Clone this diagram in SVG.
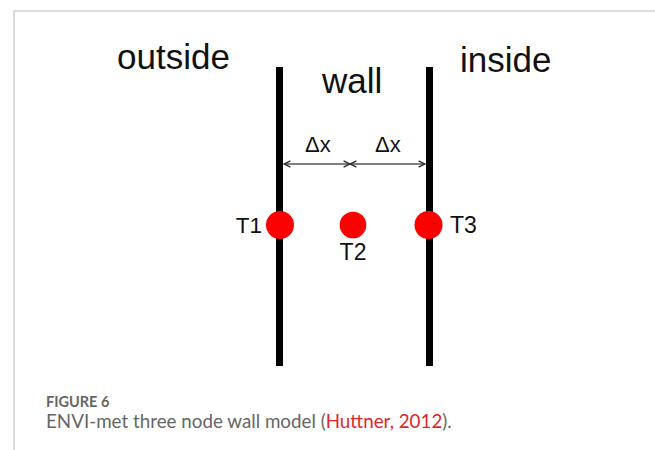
<svg xmlns="http://www.w3.org/2000/svg" width="655" height="450" viewBox="0 0 655 450">
  <defs>
    <marker id="ah" viewBox="0 0 10 10" refX="9" refY="5" markerWidth="8" markerHeight="8" orient="auto-start-reverse" markerUnits="userSpaceOnUse">
      <path d="M1,1 L9,5 L1,9" fill="none" stroke="#333" stroke-width="1.8"/>
    </marker>
  </defs>
  <style>
    .lbl { font-family: "Liberation Sans", Arial, sans-serif; fill: #111; }
    .wall { fill: #000; }
    .node { fill: #ff0000; }
    .dim { stroke: #555; stroke-width: 1.5; fill: none; }
    .cap { font-family: "Lato", "Open Sans", sans-serif; fill: #666; }
  </style>
  <rect width="655" height="450" fill="#fff"/>
  <g id="frame">
    <line x1="13.5" y1="11" x2="655" y2="11" stroke="#d0d0d0" stroke-width="1.5"/>
    <line x1="14" y1="11" x2="14" y2="450" stroke="#d0d0d0" stroke-width="1.5"/>
  </g>
  <g id="labels">
    <text class="lbl" x="117" y="69" font-size="35">outside</text>
    <text class="lbl" x="322" y="93" font-size="35">wall</text>
    <text class="lbl" x="460" y="72" font-size="35">inside</text>
  </g>
  <g id="wall-outer"><rect class="wall" x="276" y="67" width="7" height="299"/></g>
  <g id="wall-inner"><rect class="wall" x="426" y="67" width="7" height="299"/></g>
  <g id="connectors">
    <line class="dim" x1="284" y1="164" x2="350" y2="164" marker-start="url(#ah)" marker-end="url(#ah)"/>
    <line class="dim" x1="350" y1="164" x2="425" y2="164" marker-start="url(#ah)" marker-end="url(#ah)"/>
    <text class="lbl" x="305" y="152" font-size="22">Δx</text>
    <text class="lbl" x="375" y="152" font-size="22">Δx</text>
  </g>
  <g id="T1">
    <circle class="node" cx="280" cy="225" r="14"/>
    <text class="lbl" x="262" y="233" font-size="22.5" text-anchor="end">T1</text>
  </g>
  <g id="T2">
    <circle class="node" cx="353" cy="225" r="13.3"/>
    <text class="lbl" x="353" y="260" font-size="23" text-anchor="middle">T2</text>
  </g>
  <g id="T3">
    <circle class="node" cx="428.5" cy="225" r="14"/>
    <text class="lbl" x="450" y="233" font-size="23">T3</text>
  </g>
  <g id="caption">
    <text class="cap" x="46" y="406.5" font-size="14.5" font-weight="bold">FIGURE 6</text>
    <text class="cap" x="46" y="427.5" font-size="18.8">ENVI-met three node wall model (<tspan fill="#e0262b">Huttner, 2012</tspan>).</text>
  </g>
</svg>
